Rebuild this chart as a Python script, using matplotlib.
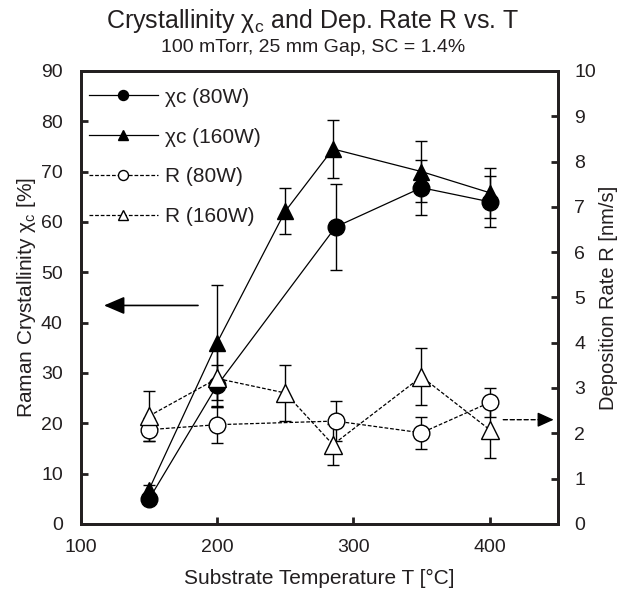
import matplotlib.pyplot as plt
from matplotlib.lines import Line2D

plt.rcParams['font.family'] = ['Liberation Sans', 'DejaVu Sans']

# crystallinity (left axis, %)
T_80 = [150, 200, 287, 350, 400]
chi_80 = [4.9, 27.5, 59.0, 66.8, 64.0]
chi_80_err = [1.0, 4.0, 8.5, 5.5, 5.1]

T_160 = [150, 200, 250, 285, 350, 400]
chi_160 = [6.8, 36.0, 62.1, 74.5, 70.0, 65.8]
chi_160_err = [1.0, 11.4, 4.6, 5.8, 6.0, 5.0]

# deposition rate (right axis, nm/s)
R_80 = [2.08, 2.19, 2.27, 2.01, 2.68]
R_80_err = [0.26, 0.40, 0.45, 0.36, 0.32]
R_160 = [2.38, 3.21, 2.89, 1.75, 3.25, 2.08]
R_160_err = [0.55, 0.64, 0.62, 0.45, 0.63, 0.62]

labels = ['χc (80W)', 'χc (160W)', 'R (80W)', 'R (160W)']
txt = '#231f20'
dash = (0, (3, 1.5))

fig = plt.figure(figsize=(6.17, 5.96), dpi=100)
ax = fig.add_axes([0.131, 0.121, 0.773, 0.760])
ax2 = ax.twinx()

eb = dict(color='black', ecolor='black', elinewidth=1.0, capsize=4, capthick=1.0, lw=0.9)

ax.errorbar(T_80, chi_80, yerr=chi_80_err, marker='o', ms=12, mfc='black', mec='black', ls='-', **eb)
ax.errorbar(T_160, chi_160, yerr=chi_160_err, marker='^', ms=12, mfc='black', mec='black', ls='-', **eb)
ax2.errorbar(T_80, R_80, yerr=R_80_err, marker='o', ms=12, mfc='white', mec='black', mew=1.0,
             ls=dash, **eb)
ax2.errorbar(T_160, R_160, yerr=R_160_err, marker='^', ms=13, mfc='white', mec='black', mew=1.0,
             ls=dash, **eb)

ax.set_xlim(100, 450)
ax.set_ylim(0, 90)
ax2.set_ylim(0, 10)
ax.set_xticks([100, 200, 300, 400])
ax.set_yticks(range(0, 91, 10))
ax2.set_yticks(range(0, 11))

for a in (ax, ax2):
    for s in a.spines.values():
        s.set_linewidth(2.0)
        s.set_color(txt)
    a.tick_params(direction='in', length=5, width=2, labelsize=14, colors=txt)
ax.tick_params(axis='x', pad=11)
ax.tick_params(axis='y', pad=13)
ax2.tick_params(axis='y', pad=12)

ax.set_xlabel('Substrate Temperature T [°C]', fontsize=15, labelpad=9, color=txt)
ax.set_ylabel('Raman Crystallinity χ$_\\mathregular{c}$ [%]', fontsize=15, labelpad=2, color=txt)
ax2.set_ylabel('Deposition Rate R [nm/s]', fontsize=14.5, labelpad=2, color=txt)

fig.text(0.507, 0.965, 'Crystallinity χ$_\\mathregular{c}$ and Dep. Rate R vs. T', ha='center',
         va='center', fontsize=18, color=txt)
fig.text(0.507, 0.921, '100 mTorr, 25 mm Gap, SC = 1.4%', ha='center', va='center',
         fontsize=14, color=txt)

# arrows pointing to each axis
ax.annotate('', xy=(117, 43.4), xytext=(186, 43.4),
            arrowprops=dict(arrowstyle='-|>,head_length=0.7,head_width=0.3', color='black',
                            lw=1.2, mutation_scale=18, shrinkA=0, shrinkB=0))
ax2.annotate('', xy=(440, 2.3), xytext=(410, 2.3),
             arrowprops=dict(arrowstyle='-', color='black', lw=1.0, ls=(0, (3, 2)),
                             shrinkA=0, shrinkB=0))
ax2.annotate('', xy=(447, 2.3), xytext=(438, 2.3),
             arrowprops=dict(arrowstyle='-|>,head_length=0.55,head_width=0.25', color='black',
                             lw=1.0, mutation_scale=18, shrinkA=0, shrinkB=0))

handles = [
    Line2D([], [], color='black', lw=0.9, marker='o', ms=12, mfc='black', mec='black'),
    Line2D([], [], color='black', lw=0.9, marker='^', ms=12, mfc='black', mec='black'),
    Line2D([], [], color='black', lw=0.9, ls=dash, marker='o', ms=12, mfc='white', mec='black'),
    Line2D([], [], color='black', lw=0.9, ls=dash, marker='^', ms=12, mfc='white', mec='black'),
]
leg = ax.legend(handles, labels, loc='upper left', bbox_to_anchor=(0.017, 0.963), frameon=False,
                fontsize=15, markerscale=0.6, handlelength=3.3, handletextpad=0.35,
                labelspacing=1.0, borderaxespad=0, borderpad=0)
for t in leg.get_texts():
    t.set_color(txt)

fig.savefig('out.png', dpi=100)
